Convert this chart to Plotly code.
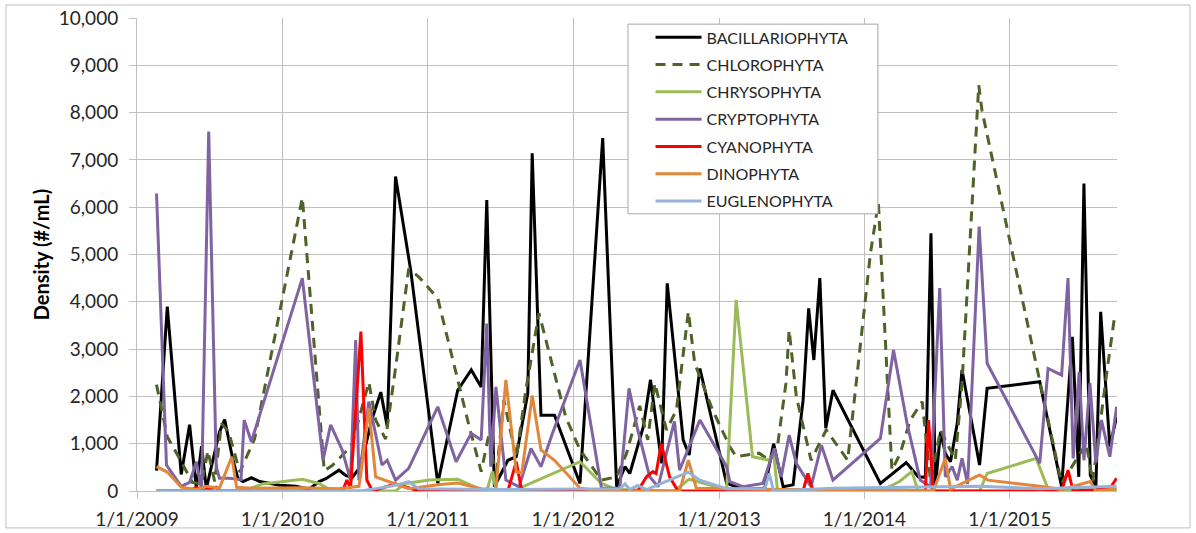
import plotly.graph_objects as go

# Phytoplankton density by division (cells per mL), sampling dates per series
BAC_DATES = ["2009-02-19", "2009-03-18", "2009-04-22", "2009-05-13", "2009-05-30", "2009-06-12", "2009-06-24",
             "2009-07-27", "2009-08-09", "2009-08-30", "2009-09-11", "2009-09-24", "2009-10-15", "2009-11-05",
             "2009-12-25", "2010-02-04", "2010-03-09", "2010-04-03", "2010-04-20", "2010-05-06", "2010-05-23",
             "2010-06-09", "2010-06-25", "2010-07-12", "2010-07-27", "2010-08-15", "2010-09-05", "2010-09-21",
             "2010-10-12", "2010-11-19", "2011-01-26", "2011-03-17", "2011-04-20", "2011-05-15", "2011-05-29",
             "2011-06-17", "2011-07-21", "2011-08-11", "2011-09-09", "2011-09-20", "2011-10-12", "2011-11-15",
             "2012-01-18", "2012-03-15", "2012-04-19", "2012-05-10", "2012-05-22", "2012-06-25", "2012-07-13",
             "2012-08-10", "2012-08-24", "2012-10-03", "2012-10-18", "2012-11-14", "2013-01-20", "2013-03-06",
             "2013-04-26", "2013-05-18", "2013-06-11", "2013-07-06", "2013-07-31", "2013-08-14", "2013-08-27",
             "2013-09-11", "2013-09-26", "2013-10-14", "2014-02-10", "2014-04-16", "2014-05-16", "2014-06-03",
             "2014-06-17", "2014-06-28", "2014-07-11", "2014-07-23", "2014-08-05", "2014-08-22", "2014-09-03",
             "2014-10-17", "2014-11-05", "2015-03-17", "2015-05-11", "2015-06-07", "2015-06-23", "2015-07-06",
             "2015-07-22", "2015-08-05", "2015-08-17", "2015-09-09", "2015-09-26"]
BAC_VALS = [430, 3900, 350, 1400, 50, 950, 50,
            1250, 1510, 650, 270, 200, 280, 200,
            120, 100, 40, 200, 260, 340, 440,
            330, 280, 470, 900, 1550, 2090, 1370,
            6650, 4670, 160, 2130, 2560, 2200, 6150,
            90, 650, 725, 2070, 7140, 1600, 1600,
            160, 7460, 90, 515, 370, 1360, 2350,
            585, 4390, 1080, 760, 2590, 160, 30,
            60, 1000, 90, 130, 1920, 3860, 2770,
            4500, 1330, 2130, 160, 600, 300, 290,
            5450, 90, 1250, 800, 620, 1430, 2560,
            550, 2170, 2310, 90, 3260, 300, 6500,
            330, 90, 3790, 940, 1570]

CHL_DATES = ["2009-02-19", "2009-03-18", "2009-04-22", "2009-05-20", "2009-06-12", "2009-06-28", "2009-07-15",
             "2009-08-01", "2009-08-19", "2009-09-16", "2009-10-23", "2010-02-20", "2010-04-16", "2010-05-06",
             "2010-06-09", "2010-06-25", "2010-08-06", "2010-08-23", "2010-09-17", "2010-10-12", "2010-11-14",
             "2010-12-09", "2011-01-26", "2011-03-21", "2011-04-15", "2011-05-15", "2011-06-04", "2011-06-21",
             "2011-07-11", "2011-08-11", "2011-09-04", "2011-10-07", "2011-12-13", "2012-01-18", "2012-03-12",
             "2012-04-19", "2012-05-14", "2012-06-16", "2012-07-06", "2012-07-24", "2012-08-22", "2012-09-16",
             "2012-10-16", "2012-11-01", "2012-12-16", "2013-01-28", "2013-02-13", "2013-04-12", "2013-05-07",
             "2013-05-27", "2013-06-18", "2013-06-26", "2013-07-14", "2013-08-20", "2013-09-27", "2013-11-20",
             "2014-01-16", "2014-02-05", "2014-03-11", "2014-04-01", "2014-04-26", "2014-05-26", "2014-06-16",
             "2014-07-11", "2014-08-17", "2014-09-03", "2014-10-15", "2014-10-23", "2015-05-11", "2015-07-12",
             "2015-07-28", "2015-08-31", "2015-09-21"]
CHL_VALS = [2250, 1150, 620, 180, 150, 850, 200,
            1430, 1250, 400, 1100, 6200, 430, 540,
            830, 1000, 2300, 1500, 1100, 2600, 4700,
            4530, 4070, 2200, 1360, 410, 1220, 230,
            1920, 700, 2130, 3760, 1570, 870, 230,
            300, 800, 1800, 1080, 2280, 1290, 1710,
            3790, 2700, 1710, 940, 725, 800, 650,
            900, 2280, 3400, 2000, 650, 1290, 650,
            5020, 6100, 440, 800, 1500, 1890, 200,
            1290, 650, 2280, 8580, 8050, 160, 1010,
            200, 2420, 3690]

CHR_DATES = ["2009-02-19", "2009-09-27", "2009-11-12", "2010-01-09", "2010-02-20", "2010-04-03", "2010-05-06",
             "2010-10-12", "2010-11-06", "2011-01-05", "2011-03-17", "2011-04-20", "2011-05-15", "2011-05-29",
             "2011-06-12", "2011-06-21", "2011-08-11", "2012-01-18", "2012-03-12", "2012-04-19", "2012-09-11",
             "2012-10-18", "2013-01-20", "2013-02-13", "2013-03-26", "2013-05-07", "2013-05-18", "2013-05-28",
             "2014-02-10", "2014-03-30", "2014-04-30", "2014-05-16", "2014-10-17", "2014-11-05", "2015-03-08",
             "2015-04-07", "2015-09-26"]
CHR_VALS = [0, 0, 150, 200, 250, 160, 0,
            0, 160, 230, 250, 120, 30, 0,
            410, 30, 30, 620, 160, 30, 0,
            250, 30, 4040, 725, 650, 800, 0,
            0, 200, 410, 0, 0, 370, 690,
            40, 0]

CRY_DATES = ["2009-02-19", "2009-03-16", "2009-04-22", "2009-05-13", "2009-05-30", "2009-06-12", "2009-06-30",
             "2009-07-19", "2009-07-27", "2009-08-21", "2009-09-19", "2009-09-27", "2009-10-15", "2010-02-20",
             "2010-04-13", "2010-05-02", "2010-05-31", "2010-06-21", "2010-07-04", "2010-07-12", "2010-08-06",
             "2010-09-08", "2010-09-21", "2010-10-12", "2010-11-14", "2011-01-26", "2011-03-13", "2011-04-20",
             "2011-05-15", "2011-05-29", "2011-06-08", "2011-06-21", "2011-07-16", "2011-08-18", "2011-09-17",
             "2011-10-12", "2011-11-10", "2012-01-18", "2012-03-12", "2012-04-27", "2012-05-20", "2012-06-11",
             "2012-07-11", "2012-08-01", "2012-09-11", "2012-09-24", "2012-11-14", "2013-01-20", "2013-01-28",
             "2013-03-02", "2013-04-21", "2013-05-20", "2013-06-06", "2013-06-26", "2013-07-14", "2013-08-20",
             "2013-09-15", "2013-10-14", "2014-02-10", "2014-03-15", "2014-04-18", "2014-05-21", "2014-06-16",
             "2014-07-09", "2014-07-23", "2014-08-09", "2014-08-22", "2014-09-03", "2014-09-17", "2014-10-16",
             "2014-11-05", "2015-03-17", "2015-04-07", "2015-05-11", "2015-05-27", "2015-06-09", "2015-06-24",
             "2015-07-06", "2015-07-21", "2015-08-05", "2015-08-19", "2015-09-09", "2015-09-26"]
CRY_VALS = [6290, 550, 100, 180, 620, 20, 7600,
            515, 270, 270, 240, 1500, 1040, 4500,
            650, 1400, 870, 230, 3190, 230, 1890,
            550, 650, 230, 480, 1780, 620, 1220,
            1080, 3540, 515, 2200, 230, 90, 900,
            515, 1220, 2770, 60, 60, 2170, 1290,
            300, 90, 1470, 440, 1500, 515, 200,
            90, 160, 900, 300, 1180, 585, 90,
            970, 230, 1110, 2980, 1430, 230, 90,
            4290, 300, 515, 230, 690, 150, 5590,
            2700, 585, 2590, 2450, 4500, 690, 2520,
            650, 2280, 600, 1500, 725, 1780]

CYA_DATES = ["2009-02-19", "2009-05-13", "2009-05-30", "2009-06-12", "2009-07-19", "2009-07-27", "2010-06-01",
             "2010-06-12", "2010-06-21", "2010-07-17", "2010-08-01", "2010-08-15", "2010-10-12", "2010-11-14",
             "2010-12-09", "2011-07-21", "2011-08-11", "2011-08-25", "2012-06-11", "2012-07-03", "2012-07-19",
             "2012-07-27", "2012-08-09", "2012-08-30", "2012-09-20", "2013-07-31", "2013-08-12", "2013-08-25",
             "2014-06-03", "2014-06-11", "2014-06-23", "2015-05-11", "2015-05-27", "2015-06-09", "2015-09-09",
             "2015-09-26"]
CYA_VALS = [0, 0, 80, 0, 80, 0, 0,
            230, 60, 3370, 230, 0, 150, 60,
            0, 0, 620, 0, 0, 300, 410,
            370, 1000, 300, 0, 0, 370, 0,
            0, 1500, 0, 0, 440, 0, 50,
            270]

DIN_DATES = ["2009-02-19", "2009-03-18", "2009-04-22", "2009-05-30", "2009-06-24", "2009-07-27", "2009-08-27",
             "2009-09-08", "2009-10-15", "2010-02-20", "2010-05-23", "2010-07-12", "2010-07-17", "2010-08-06",
             "2010-08-23", "2010-09-26", "2010-10-12", "2010-11-14", "2011-01-26", "2011-03-17", "2011-05-15",
             "2011-06-21", "2011-07-16", "2011-08-11", "2011-08-25", "2011-09-20", "2011-10-12", "2011-11-15",
             "2012-01-18", "2012-03-12", "2012-09-24", "2012-10-16", "2012-11-05", "2013-06-01", "2014-01-16",
             "2014-06-23", "2014-07-23", "2014-08-05", "2014-10-17", "2014-11-07", "2015-03-17", "2015-05-11",
             "2015-07-22", "2015-08-05", "2015-09-26"]
DIN_VALS = [515, 400, 80, 30, 100, 60, 725,
            80, 60, 70, 50, 100, 370, 1750,
            300, 200, 150, 50, 130, 170, 50,
            30, 2350, 400, 380, 2020, 870, 650,
            60, 0, 0, 650, 60, 30, 30,
            0, 690, 40, 340, 230, 100, 30,
            200, 0, 50]

EUG_DATES = ["2009-02-19", "2010-07-17", "2010-08-23", "2010-10-12", "2010-11-14", "2010-12-09", "2011-06-21",
             "2012-04-27", "2012-05-10", "2012-05-22", "2012-06-11", "2012-07-03", "2012-10-16", "2012-11-14",
             "2013-01-20", "2013-04-26", "2013-05-07", "2013-05-18", "2013-10-14", "2014-10-17", "2015-03-17",
             "2015-09-26"]
EUG_VALS = [0, 0, 50, 120, 200, 50, 30,
            50, 150, 30, 120, 30, 400, 230,
            50, 50, 370, 0, 60, 100, 50,
            100]

YEAR_TICKS = ["2009-01-01", "2010-01-01", "2011-01-01", "2012-01-01", "2013-01-01", "2014-01-01", "2015-01-01"]
YEAR_LABELS = ["1/1/2009", "1/1/2010", "1/1/2011", "1/1/2012", "1/1/2013", "1/1/2014", "1/1/2015"]

SERIES = [
    ("BACILLARIOPHYTA", BAC_DATES, BAC_VALS, "#000000", "solid"),
    ("CHLOROPHYTA", CHL_DATES, CHL_VALS, "#4f6228", "10px,7px"),
    ("CHRYSOPHYTA", CHR_DATES, CHR_VALS, "#9bbb59", "solid"),
    ("CRYPTOPHYTA", CRY_DATES, CRY_VALS, "#8064a2", "solid"),
    ("CYANOPHYTA", CYA_DATES, CYA_VALS, "#ff0000", "solid"),
    ("DINOPHYTA", DIN_DATES, DIN_VALS, "#e0873c", "solid"),
    ("EUGLENOPHYTA", EUG_DATES, EUG_VALS, "#95b3d7", "solid"),
]

FONT = "Lato, 'Liberation Sans', Arial, sans-serif"
GRID = "#bfbfbf"

fig = go.Figure()
for name, dates, vals, color, dash in SERIES:
    fig.add_trace(go.Scatter(
        x=dates, y=vals, mode="lines", name=name, legendgroup=name,
        line=dict(color=color, width=3, dash=dash),
        connectgaps=True,
    ))

fig.update_layout(
    width=1196, height=533,
    margin=dict(l=137, r=79, t=18, b=42, autoexpand=False),
    paper_bgcolor="white", plot_bgcolor="white",
    font=dict(family=FONT, color="#262626"),
    showlegend=True,
    legend=dict(
        x=0.524, y=0.995, xanchor="left", yanchor="top",
        bgcolor="rgba(0,0,0,0)", borderwidth=0,
        font=dict(family=FONT, size=16, color="#262626"),
        tracegroupgap=3.5, itemwidth=46,
    ),
    xaxis=dict(
        type="date", range=["2009-01-01", "2015-09-27"],
        tickmode="array", tickvals=YEAR_TICKS, ticktext=YEAR_LABELS,
        showgrid=True, gridcolor=GRID, gridwidth=1,
        showline=True, linecolor=GRID, linewidth=1,
        ticks="outside", ticklen=7, tickcolor=GRID,
        tickfont=dict(size=19, color="#262626"),
        ticklabelstandoff=4,
        zeroline=False, automargin=False,
    ),
    yaxis=dict(
        range=[0, 10000], dtick=1000, tickformat=",d",
        showgrid=True, gridcolor=GRID, gridwidth=1,
        showline=True, linecolor=GRID, linewidth=1,
        ticks="outside", ticklen=7, tickcolor=GRID,
        tickfont=dict(size=19, color="#262626"),
        ticklabelstandoff=7,
        zeroline=False, automargin=False,
        title=dict(text="<b>Density (#/mL)</b>", font=dict(size=20, color="#000000"), standoff=3),
    ),
    shapes=[
        # outer chart frame
        dict(type="rect", xref="paper", yref="paper", x0=-0.1337, x1=1.0745, y0=-0.078, y1=1.0275,
             line=dict(color="#bfbfbf", width=1), fillcolor="rgba(0,0,0,0)", layer="below"),
        # legend frame
        dict(type="rect", xref="paper", yref="paper", x0=0.501, x1=0.756, y0=0.586, y1=0.987,
             line=dict(color="#a6a6a6", width=1), fillcolor="white", layer="above"),
    ],
)

fig.write_html("out.html")
